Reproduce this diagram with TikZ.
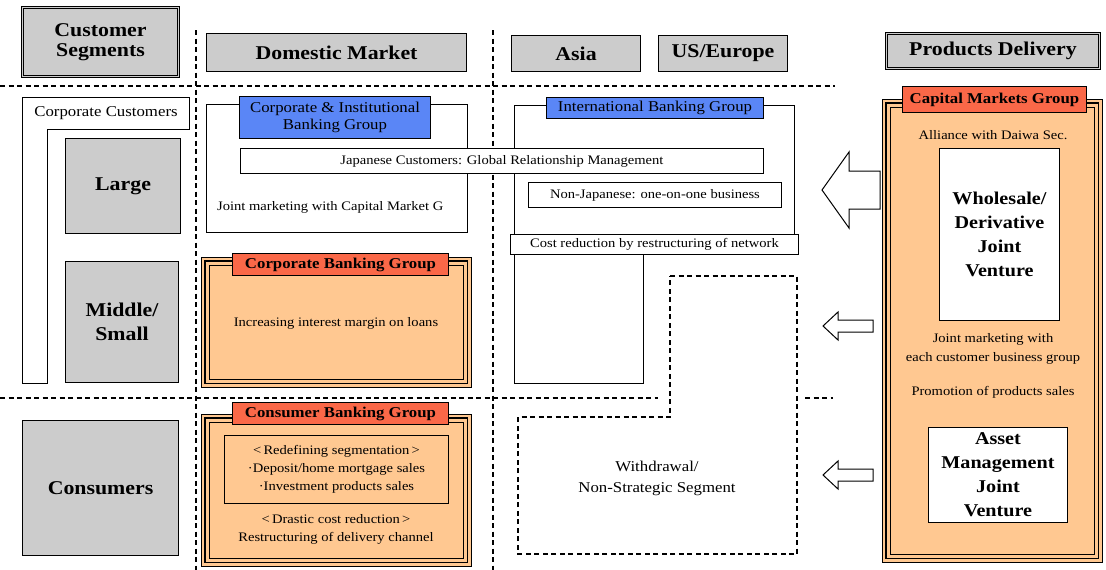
\documentclass[tikz,border=0pt]{standalone}
\usepackage{fontspec}
\setmainfont[FakeStretch=1.12]{Liberation Serif}
\definecolor{boxgray}{RGB}{204,204,204}
\definecolor{peach}{RGB}{255,200,145}
\definecolor{tomato}{RGB}{250,104,72}
\definecolor{royal}{RGB}{90,134,246}
\newcommand\szbig{\bfseries\fontsize{19.5}{20}\selectfont}
\newcommand\sztitle{\bfseries\fontsize{15}{16}\selectfont}
\newcommand\szmid{\fontsize{15}{17}\selectfont}
\newcommand\szsmall{\fontsize{13}{18}\selectfont}
\newcommand\szjv{\bfseries\fontsize{18}{24}\selectfont}
\begin{document}
\begin{tikzpicture}[x=1pt,y=-1pt,
  graybox/.style={draw, line width=1.1pt, fill=boxgray, inner sep=0pt, anchor=north west, align=center, font=\szbig},
  dblbox/.style={graybox, double=boxgray, double distance=1.6pt, line width=1pt},
  whitebox/.style={draw, line width=0.9pt, fill=white, inner sep=0pt, anchor=north west, align=center},
  titlered/.style={draw, line width=1pt, fill=tomato, inner sep=0pt, anchor=north west, font=\sztitle},
  titleblue/.style={draw, line width=1pt, fill=royal, inner sep=0pt, anchor=north west, align=center, font=\szmid},
  orangeframe/.style={draw, line width=0.8pt, fill=peach, inner sep=0pt, anchor=north west},
  plain/.style={align=center, inner sep=0pt, font=\szsmall},
  divider/.style={dash pattern=on 5pt off 3.5pt, line width=1.3pt},
  blockarrow/.style={draw, line width=1pt, fill=white, line join=miter}
]
\useasboundingbox[fill=white] (0,0) rectangle (1106,570);

% dividers
\draw[divider] (196,30) -- (196,570);
\draw[divider] (493,30) -- (493,570);
\draw[divider] (0,86) -- (835,86);
\draw[divider] (0,398) -- (658,398);
\draw[divider] (805,398) -- (833,398);

% header row
\node[dblbox, minimum width=156, minimum height=69] (custseg) at (22,7) {Customer\\Segments};
\node[graybox, minimum width=260, minimum height=38] (domestic) at (206,33) {Domestic Market};
\node[graybox, minimum width=129, minimum height=36] (asia) at (511,35) {Asia};
\node[graybox, minimum width=129, minimum height=36] (useu) at (658,35) {US/Europe};
\node[dblbox, minimum width=213, minimum height=35] (products) at (886,33) {Products Delivery};

% left column
\draw[line width=1pt, fill=white] (22,97) -- (189,97) -- (189,129) -- (47,129) -- (47,383) -- (22,383) -- cycle;
\node[plain, font=\fontsize{15}{16}\selectfont] (corpcust) at (106,113) {Corporate Customers};
\node[graybox, minimum width=115, minimum height=95] (large) at (65,138) {Large};
\node[graybox, minimum width=113, minimum height=121, font=\bfseries\fontsize{19.5}{24}\selectfont] (midsmall) at (65,261) {Middle/\\Small};
\node[graybox, minimum width=156, minimum height=135] (consumers) at (22,420) {Consumers};

% domestic: corporate & institutional
\node[whitebox, minimum width=261, minimum height=128] (cibgframe) at (206,104) {};
\node[titleblue, minimum width=191, minimum height=42] (cibg) at (239,96) {Corporate \& Institutional\\Banking Group};
\node[plain, anchor=west] (jointcap) at (217,207) {Joint marketing with Capital Market G};

% domestic: corporate banking
\node[orangeframe, minimum width=270, minimum height=130] (cbgframe) at (201,257) {};
\draw[line width=1.1pt] ([shift={(4,4)}]cbgframe.north west) rectangle ([shift={(-4,-4)}]cbgframe.south east);
\draw[line width=0.8pt] ([shift={(8,8)}]cbgframe.north west) rectangle ([shift={(-8,-8)}]cbgframe.south east);
\node[titlered, minimum width=216, minimum height=22] (cbg) at (232,253) {Corporate Banking Group};
\node[plain] (cbgtext) at (336,323) {Increasing interest margin on loans};

% domestic: consumer banking
\node[orangeframe, minimum width=270, minimum height=152] (conframe) at (201,414) {};
\draw[line width=1.1pt] ([shift={(4,4)}]conframe.north west) rectangle ([shift={(-4,-4)}]conframe.south east);
\draw[line width=0.8pt] ([shift={(8,8)}]conframe.north west) rectangle ([shift={(-8,-8)}]conframe.south east);
\node[titlered, minimum width=216, minimum height=22] (conbg) at (232,402) {Consumer Banking Group};
\node[draw, line width=1pt, inner sep=0pt, anchor=north west, align=center, font=\szsmall, minimum width=224, minimum height=68] (segbox) at (224,435) {<\,Redefining segmentation\,>\\·Deposit/home mortgage sales\\·Investment products sales};
\node[plain] (drastic) at (336,529) {<\,Drastic cost reduction\,>\\Restructuring of delivery channel};

% international
\node[whitebox, minimum width=280, minimum height=129] (ibgframe) at (514,105) {};
\node[whitebox, minimum width=129, minimum height=129] (ibglower) at (514,254) {};
\node[titleblue, minimum width=217, minimum height=21] (ibg) at (546,97) {International Banking Group};
\node[whitebox, font=\szsmall, minimum width=523, minimum height=25] (japan) at (240,148) {Japanese Customers: Global Relationship Management};
\node[whitebox, font=\szsmall, minimum width=253, minimum height=25] (nonjap) at (528,182) {Non-Japanese: one-on-one business};
\node[whitebox, font=\szsmall, minimum width=288, minimum height=20] (cost) at (510,234) {Cost reduction by restructuring of network};

% withdrawal
\draw[divider] (670,276) -- (797,276) -- (797,554) -- (518,554) -- (518,417) -- (670,417) -- cycle;
\node[plain, font=\fontsize{15}{21}\selectfont] (withdraw) at (657,478) {Withdrawal/\\Non-Strategic Segment};

% block arrows
\draw[blockarrow] (822,190) -- (849,152) -- (849,171) -- (880,171) -- (880,209) -- (849,209) -- (849,228) -- cycle;
\draw[blockarrow] (823,326) -- (838,312) -- (838,320) -- (873,320) -- (873,332) -- (838,332) -- (838,340) -- cycle;
\draw[blockarrow] (823,475) -- (838,461) -- (838,469) -- (873,469) -- (873,481) -- (838,481) -- (838,489) -- cycle;

% capital markets
\node[orangeframe, minimum width=220, minimum height=463] (cmgframe) at (882,99) {};
\draw[line width=1.1pt] ([shift={(4,4)}]cmgframe.north west) rectangle ([shift={(-4,-4)}]cmgframe.south east);
\draw[line width=0.8pt] ([shift={(8,8)}]cmgframe.north west) rectangle ([shift={(-8,-8)}]cmgframe.south east);
\node[titlered, minimum width=184, minimum height=26] (cmg) at (902,86) {Capital Markets Group};
\node[plain] (alliance) at (993,135) {Alliance with Daiwa Sec.};
\node[whitebox, font=\szjv, minimum width=120, minimum height=172] (wholesale) at (939,148) {Wholesale/\\Derivative\\Joint\\Venture};
\node[plain, font=\fontsize{13}{19}\selectfont] (jointeach) at (993,349) {Joint marketing with\\each customer business group};
\node[plain] (promo) at (993,392) {Promotion of products sales};
\node[whitebox, font=\szjv, minimum width=139, minimum height=95] (asset) at (928,427) {Asset\\Management\\Joint\\Venture};
\end{tikzpicture}
\end{document}
